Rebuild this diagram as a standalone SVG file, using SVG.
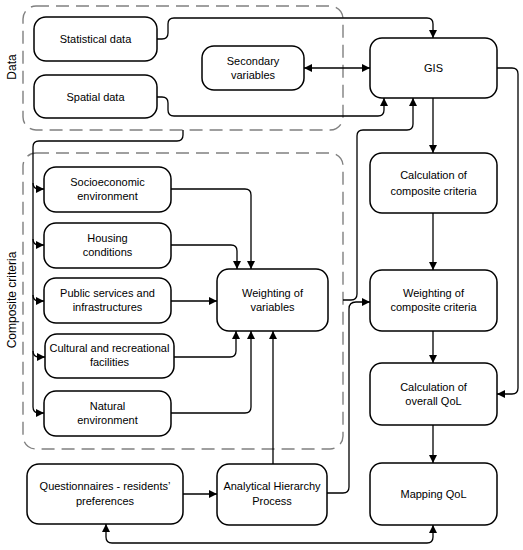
<svg xmlns="http://www.w3.org/2000/svg" width="523" height="550" viewBox="0 0 523 550">
<style>
.box{fill:#fff;stroke:#000;stroke-width:1.5}
.grp{fill:none;stroke:#808080;stroke-width:1.4;stroke-dasharray:13 7}
.c{fill:none;stroke:#000;stroke-width:1.3}
.a{marker-end:url(#ah)}
.b{marker-start:url(#ah);marker-end:url(#ah)}
text{font-family:"Liberation Sans",Arial,sans-serif;font-size:11px;fill:#000;text-anchor:middle}
.lbl{font-size:12px}
</style>
<defs>
<marker id="ah" viewBox="0 0 10 10" refX="10" refY="5" markerWidth="8" markerHeight="8" markerUnits="userSpaceOnUse" orient="auto-start-reverse">
<path d="M0,0 L10,5 L0,10 z" fill="#000"/>
</marker>
</defs>
<rect width="523" height="550" fill="#fff"/>

<g id="group-data">
<rect class="grp" x="23" y="6" width="320" height="124" rx="13"/>
<text class="lbl" transform="translate(16,67) rotate(-90)">Data</text>
</g>
<g id="group-composite">
<rect class="grp" x="23" y="153" width="320" height="296" rx="13"/>
<text class="lbl" transform="translate(16,300) rotate(-90)">Composite criteria</text>
</g>

<g id="connectors">
<path class="c a" d="M157,39 H162 Q168,39 168,33 V24 Q168,18 174,18 H427 Q433,18 433,24 V38"/>
<path class="c a" d="M157,97 H162 Q168,97 168,103 V110 Q168,116 174,116 H378 Q384,116 384,110 V98"/>
<path class="c b" d="M304,68 H370"/>
<path class="c a" d="M183,130 V135 Q183,141 177,141 H39 Q33,141 33,147 V407 Q33,413 39,413 H44"/>
<path class="c a" d="M33,183 Q33,189 39,189 H44"/>
<path class="c a" d="M33,239 Q33,245 39,245 H44"/>
<path class="c a" d="M33,295 Q33,301 39,301 H44"/>
<path class="c a" d="M33,351 Q33,357 39,357 H45"/>
<path class="c a" d="M171,189 H245 Q251,189 251,195 V269"/>
<path class="c a" d="M171,245 H231 Q237,245 237,251 V269"/>
<path class="c a" d="M171,301 H217"/>
<path class="c a" d="M174,357 H230 Q236,357 236,351 V331"/>
<path class="c a" d="M171,413 H245 Q251,413 251,407 V331"/>
<path class="c a" d="M273,464 V331"/>
<path class="c a" d="M343,300 H351 Q357,300 357,294 V136 Q357,130 363,130 H407 Q413,130 413,124 V98"/>
<path class="c a" d="M327,493 H343 Q349,493 349,487 V309 Q349,302 356,302 H370"/>
<path class="c a" d="M497,68 H512 Q518,68 518,74 V388 Q518,394 512,394 H497"/>
<path class="c a" d="M433,98 V153"/>
<path class="c a" d="M433,213 V270"/>
<path class="c a" d="M433,331 V363"/>
<path class="c a" d="M433,425 V463"/>
<path class="c a" d="M183,494 H217"/>
<path class="c b" d="M106,524 V537 Q106,543 112,543 H427 Q433,543 433,537 V525"/>
</g>

<g id="statistical-data">
<rect class="box" x="34" y="17" width="123" height="44" rx="12"/>
<text x="95.5" y="43">Statistical data</text>
</g>
<g id="spatial-data">
<rect class="box" x="34" y="75" width="123" height="43" rx="12"/>
<text x="95.5" y="101">Spatial data</text>
</g>
<g id="secondary-variables">
<rect class="box" x="202" y="46" width="102" height="44" rx="12"/>
<text x="253" y="65">Secondary</text>
<text x="253" y="79">variables</text>
</g>
<g id="gis">
<rect class="box" x="370" y="38" width="127" height="60" rx="12"/>
<text x="433.5" y="72">GIS</text>
</g>
<g id="socioeconomic">
<rect class="box" x="44" y="167" width="127" height="45" rx="12"/>
<text x="107.5" y="186">Socioeconomic</text>
<text x="107.5" y="200">environment</text>
</g>
<g id="housing">
<rect class="box" x="44" y="223" width="127" height="45" rx="12"/>
<text x="107.5" y="242">Housing</text>
<text x="107.5" y="256">conditions</text>
</g>
<g id="public-services">
<rect class="box" x="44" y="278" width="127" height="45" rx="12"/>
<text x="107.5" y="297">Public services and</text>
<text x="107.5" y="311">infrastructures</text>
</g>
<g id="cultural">
<rect class="box" x="45" y="334" width="129" height="44" rx="12"/>
<text x="109.5" y="352">Cultural and recreational</text>
<text x="109.5" y="366">facilities</text>
</g>
<g id="natural">
<rect class="box" x="44" y="391" width="127" height="45" rx="12"/>
<text x="107.5" y="410">Natural</text>
<text x="107.5" y="424">environment</text>
</g>
<g id="weighting-variables">
<rect class="box" x="217" y="269" width="111" height="62" rx="12"/>
<text x="272.5" y="297">Weighting of</text>
<text x="272.5" y="311">variables</text>
</g>
<g id="calc-composite">
<rect class="box" x="370" y="153" width="127" height="60" rx="12"/>
<text x="433.5" y="179">Calculation of</text>
<text x="433.5" y="195">composite criteria</text>
</g>
<g id="weighting-composite">
<rect class="box" x="370" y="270" width="127" height="61" rx="12"/>
<text x="433.5" y="297">Weighting of</text>
<text x="433.5" y="311">composite criteria</text>
</g>
<g id="calc-overall">
<rect class="box" x="370" y="363" width="127" height="62" rx="12"/>
<text x="433.5" y="391">Calculation of</text>
<text x="433.5" y="405">overall QoL</text>
</g>
<g id="questionnaires">
<rect class="box" x="27" y="464" width="156" height="60" rx="12"/>
<text x="105" y="490">Questionnaires - residents’</text>
<text x="105" y="505">preferences</text>
</g>
<g id="ahp">
<rect class="box" x="217" y="464" width="110" height="61" rx="12"/>
<text x="272" y="490">Analytical Hierarchy</text>
<text x="272" y="505">Process</text>
</g>
<g id="mapping">
<rect class="box" x="370" y="463" width="127" height="62" rx="12"/>
<text x="433.5" y="498">Mapping QoL</text>
</g>
</svg>
